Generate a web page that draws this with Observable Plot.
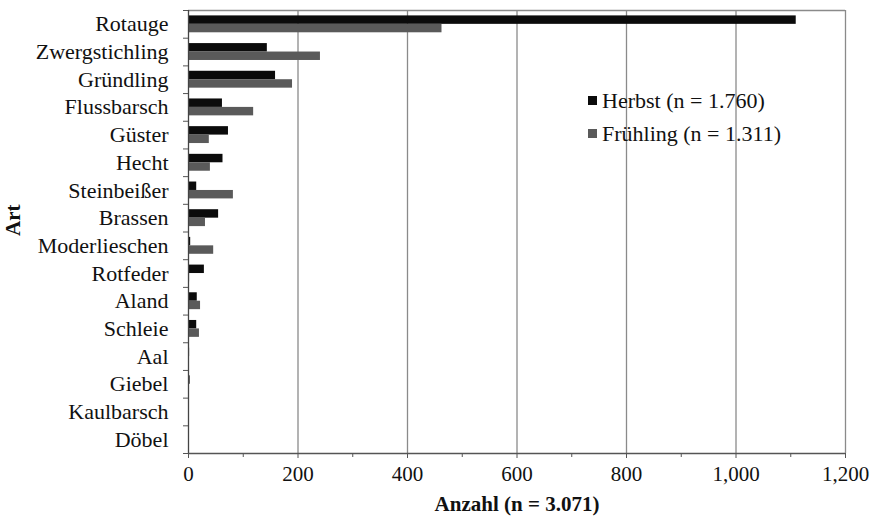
<!DOCTYPE html>
<html>
<head>
<meta charset="utf-8">
<script src="https://cdn.jsdelivr.net/npm/d3@7"></script>
<script src="https://cdn.jsdelivr.net/npm/@observablehq/plot@0.6"></script>
<style>
  body { margin: 0; background: #fff; }
  #wrap { position: relative; width: 874px; height: 524px; font-family: "Liberation Serif", "Times New Roman", serif; }
  #legend { position: absolute; left: 588px; top: 84px; font-size: 22px; color: #111; }
  #legend .row { display: flex; align-items: center; height: 33px; }
  #legend .sw { width: 9px; height: 9px; margin-right: 5px; }
</style>
</head>
<body>
<div id="wrap"><div id="legend"></div></div>
<script>
const categories = ["Rotauge","Zwergstichling","Gründling","Flussbarsch","Güster","Hecht","Steinbeißer","Brassen","Moderlieschen","Rotfeder","Aland","Schleie","Aal","Giebel","Kaulbarsch","Döbel"];
const herbst    = [1110, 144, 159, 62, 73, 63, 15, 55, 4, 29, 16, 15, 2, 3, 0, 1];
const fruehling = [463, 241, 190, 119, 38, 40, 82, 31, 46, 2, 22, 20, 1, 1, 1, 1];
const seriesNames = ["Herbst (n = 1.760)", "Frühling (n = 1.311)"];
const seriesColors = ["#0b0b0b", "#5a5a5a"];
const xTicks = [0, 200, 400, 600, 800, 1000, 1200];
const xTickLabels = ["0", "200", "400", "600", "800", "1,000", "1,200"];
const xMinorTicks = [100, 300, 500, 700, 900, 1100];
const xLabel = "Anzahl (n = 3.071)";
const yLabel = "Art";

const rows = categories.map((c, i) => ({cat: c, i, herbst: herbst[i], fruehling: fruehling[i]}));
const half = 0.305;
const n = categories.length;
const boundaries = d3.range(-0.5, n + 0.5, 1);

const chart = Plot.plot({
  width: 874, height: 524,
  marginLeft: 188, marginRight: 29, marginTop: 10, marginBottom: 71,
  style: {fontFamily: "Liberation Serif, Times New Roman, serif", fontSize: "21px", color: "#111", background: "#fff"},
  x: {domain: [0, 1200]},
  y: {domain: [n - 0.5, -0.5]},
  marks: [
    Plot.ruleX(xTicks.slice(1), {stroke: "#8a8a8a", strokeWidth: 1.3}),
    Plot.ruleY([-0.5], {stroke: "#8a8a8a", strokeWidth: 1.3}),
    Plot.rect(rows, {x1: 0, x2: "herbst", y1: d => d.i - half, y2: d => d.i, fill: seriesColors[0]}),
    Plot.rect(rows, {x1: 0, x2: "fruehling", y1: d => d.i, y2: d => d.i + half, fill: seriesColors[1]}),
    Plot.ruleX([0], {stroke: "#444", strokeWidth: 1.3}),
    Plot.ruleY([n - 0.5], {stroke: "#555", strokeWidth: 1.3}),
    Plot.axisX({ticks: xTicks, tickSize: 5, tickPadding: 8, tickFormat: d => xTickLabels[xTicks.indexOf(d)], label: null, stroke: "#555", fontSize: 21}),
    Plot.axisX({ticks: xMinorTicks, tickSize: 4, tickFormat: () => "", label: null, stroke: "#555"}),
    Plot.axisY({ticks: boundaries, tickSize: 5, tickFormat: () => "", label: null, stroke: "#555"}),
    Plot.axisY({ticks: d3.range(n), tickSize: 0, tickPadding: 20, tickFormat: i => categories[i], label: null, fontSize: 22}),
    Plot.text([xLabel], {frameAnchor: "bottom", dy: 57, fontWeight: "bold", fontSize: 21}),
    Plot.text([yLabel], {frameAnchor: "left", rotate: -90, dx: -175, dy: 4, fontWeight: "bold", fontSize: 21})
  ]
});
document.getElementById("wrap").prepend(chart);

const legend = document.getElementById("legend");
seriesNames.forEach((s, k) => {
  const row = document.createElement("div");
  row.className = "row";
  const sw = document.createElement("div");
  sw.className = "sw";
  sw.style.background = seriesColors[k];
  const t = document.createElement("span");
  t.textContent = s;
  row.append(sw, t);
  legend.append(row);
});
</script>
</body>
</html>
